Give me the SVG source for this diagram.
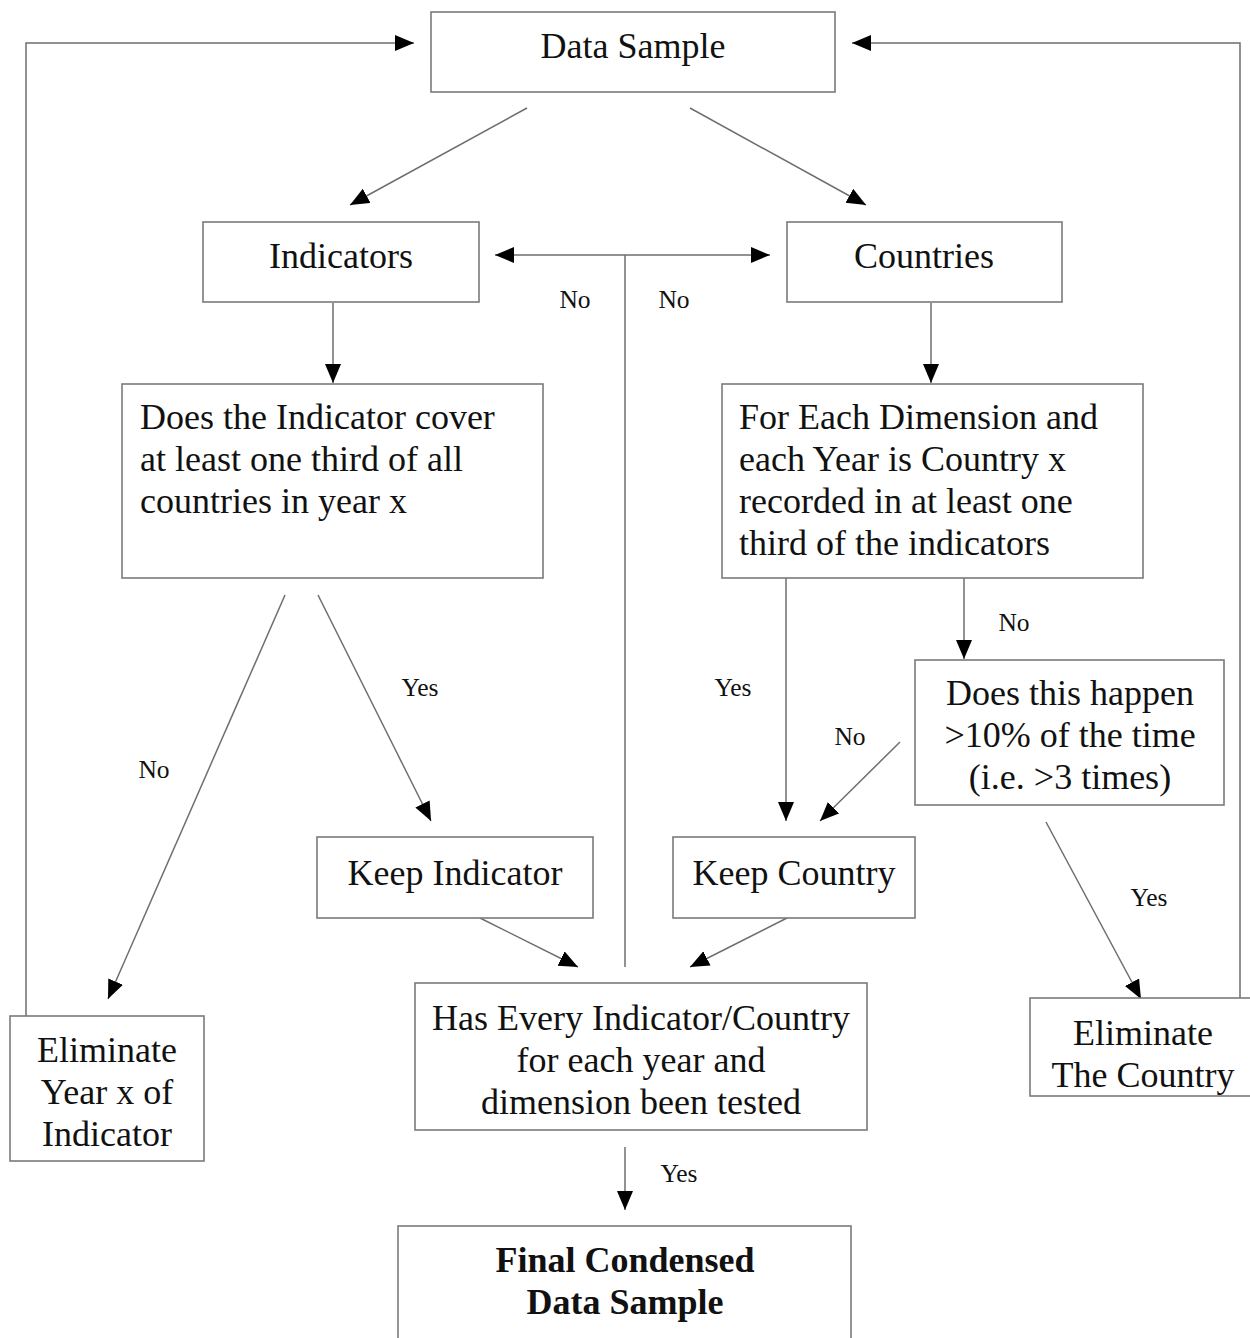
<svg xmlns="http://www.w3.org/2000/svg" width="1250" height="1338" viewBox="0 0 1250 1338">
  <style>
    .box { fill: #ffffff; stroke: #7a7a7a; stroke-width: 1.6; }
    .wire { fill: none; stroke: #6e6e6e; stroke-width: 1.5; }
    .t { font-family: "Liberation Serif", "Times New Roman", serif; font-size: 36px; fill: #111; }
    .c { text-anchor: middle; }
    .b { font-weight: bold; }
    .lbl { font-family: "Liberation Serif", "Times New Roman", serif; font-size: 25.5px; fill: #111; text-anchor: middle; }
  </style>
  <defs>
    <marker id="head" markerUnits="userSpaceOnUse" markerWidth="22" markerHeight="18" refX="19" refY="8" orient="auto">
      <path d="M0,0 L19,8 L0,16 z" fill="#000"/>
    </marker>
    <marker id="tail" markerUnits="userSpaceOnUse" markerWidth="22" markerHeight="18" refX="19" refY="8" orient="auto-start-reverse">
      <path d="M0,0 L19,8 L0,16 z" fill="#000"/>
    </marker>
  </defs>
  <rect width="1250" height="1338" fill="#ffffff"/>

  <!-- connectors -->
  <g id="connectors">
    <polyline class="wire" points="26,1016 26,43 414,43" marker-end="url(#head)"/>
    <polyline class="wire" points="1240,998 1240,43 852,43" marker-end="url(#head)"/>
    <line class="wire" x1="527" y1="108" x2="350" y2="205" marker-end="url(#head)"/>
    <line class="wire" x1="690" y1="108" x2="866" y2="205" marker-end="url(#head)"/>
    <line class="wire" x1="495" y1="255" x2="770" y2="255" marker-start="url(#tail)" marker-end="url(#head)"/>
    <line class="wire" x1="625" y1="255" x2="625" y2="967"/>
    <line class="wire" x1="333" y1="303" x2="333" y2="383" marker-end="url(#head)"/>
    <line class="wire" x1="931" y1="303" x2="931" y2="383" marker-end="url(#head)"/>
    <line class="wire" x1="285" y1="595" x2="108" y2="999" marker-end="url(#head)"/>
    <line class="wire" x1="318" y1="595" x2="431" y2="821" marker-end="url(#head)"/>
    <line class="wire" x1="786" y1="578" x2="786" y2="821" marker-end="url(#head)"/>
    <line class="wire" x1="964" y1="578" x2="964" y2="659" marker-end="url(#head)"/>
    <line class="wire" x1="900" y1="742" x2="820" y2="821" marker-end="url(#head)"/>
    <line class="wire" x1="1046" y1="822" x2="1141" y2="999" marker-end="url(#head)"/>
    <line class="wire" x1="480" y1="918" x2="578" y2="967" marker-end="url(#head)"/>
    <line class="wire" x1="787" y1="918" x2="690" y2="967" marker-end="url(#head)"/>
    <line class="wire" x1="625" y1="1147" x2="625" y2="1210" marker-end="url(#head)"/>

    <text class="lbl" x="575" y="308">No</text>
    <text class="lbl" x="674" y="308">No</text>
    <text class="lbl" x="154" y="778">No</text>
    <text class="lbl" x="420" y="696">Yes</text>
    <text class="lbl" x="733" y="696">Yes</text>
    <text class="lbl" x="1014" y="631">No</text>
    <text class="lbl" x="850" y="745">No</text>
    <text class="lbl" x="1149" y="906">Yes</text>
    <text class="lbl" x="679" y="1182">Yes</text>
  </g>

  <g id="data-sample">
    <rect class="box" x="431" y="12" width="404" height="80"/>
    <text class="t c" x="633" y="58">Data Sample</text>
  </g>

  <g id="indicators">
    <rect class="box" x="203" y="222" width="276" height="80"/>
    <text class="t c" x="341" y="268">Indicators</text>
  </g>

  <g id="countries">
    <rect class="box" x="787" y="222" width="275" height="80"/>
    <text class="t c" x="924" y="268">Countries</text>
  </g>

  <g id="indicator-coverage">
    <rect class="box" x="122" y="384" width="421" height="194"/>
    <text class="t" x="140" y="429">Does the Indicator cover</text>
    <text class="t" x="140" y="471">at least one third of all</text>
    <text class="t" x="140" y="513">countries in year x</text>
  </g>

  <g id="country-coverage">
    <rect class="box" x="722" y="384" width="421" height="194"/>
    <text class="t" x="739" y="429">For Each Dimension and</text>
    <text class="t" x="739" y="471">each Year is Country x</text>
    <text class="t" x="739" y="513">recorded in at least one</text>
    <text class="t" x="739" y="555">third of the indicators</text>
  </g>

  <g id="frequency-check">
    <rect class="box" x="915" y="660" width="309" height="145"/>
    <text class="t c" x="1070" y="705">Does this happen</text>
    <text class="t c" x="1070" y="747">&gt;10% of the time</text>
    <text class="t c" x="1070" y="789">(i.e. &gt;3 times)</text>
  </g>

  <g id="keep-indicator">
    <rect class="box" x="317" y="837" width="276" height="81"/>
    <text class="t c" x="455" y="885">Keep Indicator</text>
  </g>

  <g id="keep-country">
    <rect class="box" x="673" y="837" width="242" height="81"/>
    <text class="t c" x="794" y="885">Keep Country</text>
  </g>

  <g id="eliminate-year">
    <rect class="box" x="10" y="1016" width="194" height="145"/>
    <text class="t c" x="107" y="1062">Eliminate</text>
    <text class="t c" x="107" y="1104">Year x of</text>
    <text class="t c" x="107" y="1146">Indicator</text>
  </g>

  <g id="all-tested">
    <rect class="box" x="415" y="983" width="452" height="147"/>
    <text class="t c" x="641" y="1030">Has Every Indicator/Country</text>
    <text class="t c" x="641" y="1072">for each year and</text>
    <text class="t c" x="641" y="1114">dimension been tested</text>
  </g>

  <g id="eliminate-country">
    <rect class="box" x="1030" y="998" width="230" height="98"/>
    <text class="t c" x="1143" y="1045">Eliminate</text>
    <text class="t c" x="1143" y="1087">The Country</text>
  </g>

  <g id="final-sample">
    <rect class="box" x="398" y="1226" width="453" height="130"/>
    <text class="t c b" x="625" y="1272">Final Condensed</text>
    <text class="t c b" x="625" y="1314">Data Sample</text>
  </g>
</svg>
